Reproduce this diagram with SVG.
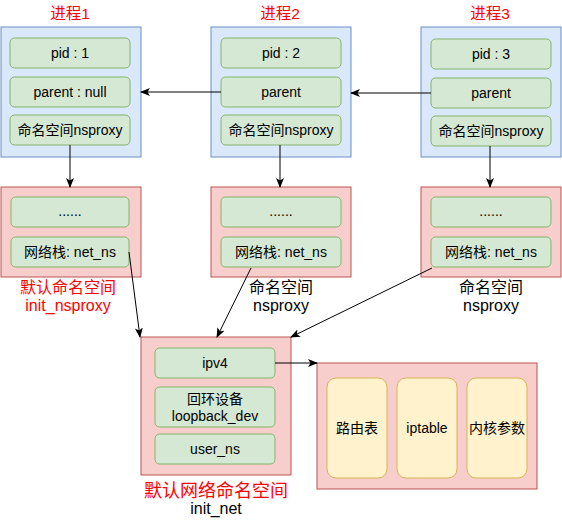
<svg xmlns="http://www.w3.org/2000/svg" width="562" height="520" viewBox="0 0 562 520">
<style>
text{font-family:"Liberation Sans","Noto Sans CJK SC",Arial,sans-serif;text-anchor:middle;fill:#000}
.blue{fill:#dae8fc;stroke:#6c8ebf;stroke-width:1}
.pink{fill:#f8cecc;stroke:#b85450;stroke-width:1}
.green{fill:#d5e8d4;stroke:#82b366;stroke-width:1}
.yellow{fill:#fff2cc;stroke:#d6b656;stroke-width:1}
.t{font-size:14px}
.title{font-size:15.5px;fill:#ff0000}
.lbl{font-size:16px}
.red{fill:#ff0000}
.edge{stroke:#000;stroke-width:1;fill:none;marker-end:url(#arr)}
</style>
<defs>
<marker id="arr" viewBox="0 0 10 10" refX="9" refY="5" markerWidth="10" markerHeight="10" markerUnits="userSpaceOnUse" orient="auto">
<path d="M0,1 L10,5 L0,9 L2.5,5 Z" fill="#000"/>
</marker>
</defs>

<g id="proc1">
<text class="title" x="70" y="19">进程1</text>
<rect class="blue" x="1" y="27" width="140" height="130"/>
<rect class="green" x="10" y="38" width="120" height="30" rx="4.5"/>
<text class="t" x="70" y="58">pid : 1</text>
<rect class="green" x="10" y="77" width="120" height="30" rx="4.5"/>
<text class="t" x="70" y="97">parent : null</text>
<rect class="green" x="10" y="115" width="120" height="30" rx="4.5"/>
<text class="t" x="70" y="135">命名空间nsproxy</text>
</g>

<g id="proc2">
<text class="title" x="280" y="19">进程2</text>
<rect class="blue" x="211" y="27" width="140" height="130"/>
<rect class="green" x="221" y="38" width="120" height="30" rx="4.5"/>
<text class="t" x="281" y="58">pid : 2</text>
<rect class="green" x="221" y="77" width="120" height="30" rx="4.5"/>
<text class="t" x="281" y="97">parent</text>
<rect class="green" x="221" y="115" width="120" height="30" rx="4.5"/>
<text class="t" x="281" y="135">命名空间nsproxy</text>
</g>

<g id="proc3">
<text class="title" x="490" y="19">进程3</text>
<rect class="blue" x="421" y="27" width="140" height="130"/>
<rect class="green" x="431" y="39" width="120" height="30" rx="4.5"/>
<text class="t" x="491" y="59">pid : 3</text>
<rect class="green" x="431" y="78" width="120" height="30" rx="4.5"/>
<text class="t" x="491" y="98">parent</text>
<rect class="green" x="431" y="116" width="120" height="30" rx="4.5"/>
<text class="t" x="491" y="136">命名空间nsproxy</text>
</g>

<g id="ns1">
<rect class="pink" x="1" y="187" width="140" height="90"/>
<rect class="green" x="11" y="197" width="118" height="30" rx="4.5"/>
<text class="t" x="70" y="216">......</text>
<rect class="green" x="11" y="237" width="118" height="30" rx="4.5"/>
<text class="t" x="70" y="257">网络栈: net_ns</text>
<text class="lbl red" x="68" y="293">默认命名空间</text>
<text class="lbl red" x="68" y="311">init_nsproxy</text>
</g>

<g id="ns2">
<rect class="pink" x="211" y="187" width="140" height="90"/>
<rect class="green" x="221" y="197" width="120" height="30" rx="4.5"/>
<text class="t" x="281" y="216">......</text>
<rect class="green" x="221" y="237" width="120" height="30" rx="4.5"/>
<text class="t" x="281" y="257">网络栈: net_ns</text>
<text class="lbl" x="281" y="293">命名空间</text>
<text class="lbl" x="281" y="311">nsproxy</text>
</g>

<g id="ns3">
<rect class="pink" x="421" y="187" width="140" height="90"/>
<rect class="green" x="431" y="197" width="120" height="30" rx="4.5"/>
<text class="t" x="491" y="216">......</text>
<rect class="green" x="431" y="237" width="120" height="30" rx="4.5"/>
<text class="t" x="491" y="257">网络栈: net_ns</text>
<text class="lbl" x="491" y="293">命名空间</text>
<text class="lbl" x="491" y="311">nsproxy</text>
</g>

<g id="initnet">
<rect class="pink" x="141" y="337" width="150" height="138"/>
<rect class="green" x="155" y="348" width="120" height="30" rx="4.5"/>
<text class="t" x="215" y="368">ipv4</text>
<rect class="green" x="155" y="387" width="120" height="40" rx="4.5"/>
<text class="t" x="215" y="404">回环设备</text>
<text class="t" x="215" y="421">loopback_dev</text>
<rect class="green" x="155" y="434" width="120" height="30" rx="4.5"/>
<text class="t" x="215" y="454">user_ns</text>
<text class="red" style="font-size:18px" x="216" y="497">默认网络命名空间</text>
<text class="lbl" x="216" y="514">init_net</text>
</g>

<g id="ipv4detail">
<rect class="pink" x="317" y="363" width="220" height="126"/>
<rect class="yellow" x="327" y="378" width="60" height="100" rx="9"/>
<text class="t" x="357" y="433">路由表</text>
<rect class="yellow" x="397" y="378" width="60" height="100" rx="9"/>
<text class="t" x="427" y="433">iptable</text>
<rect class="yellow" x="467" y="378" width="60" height="100" rx="9"/>
<text class="t" x="497" y="433">内核参数</text>
</g>

<g id="connectors">
<line class="edge" x1="221" y1="92" x2="141" y2="92"/>
<line class="edge" x1="431" y1="93" x2="351" y2="93"/>
<line class="edge" x1="70" y1="145" x2="70" y2="187"/>
<line class="edge" x1="280" y1="145" x2="280" y2="187"/>
<line class="edge" x1="490" y1="146" x2="490" y2="187"/>
<line class="edge" x1="129" y1="252" x2="140" y2="337"/>
<line class="edge" x1="251" y1="268" x2="217" y2="337"/>
<line class="edge" x1="432" y1="268" x2="291" y2="337"/>
<line class="edge" x1="275" y1="363" x2="317" y2="363"/>
</g>
</svg>
